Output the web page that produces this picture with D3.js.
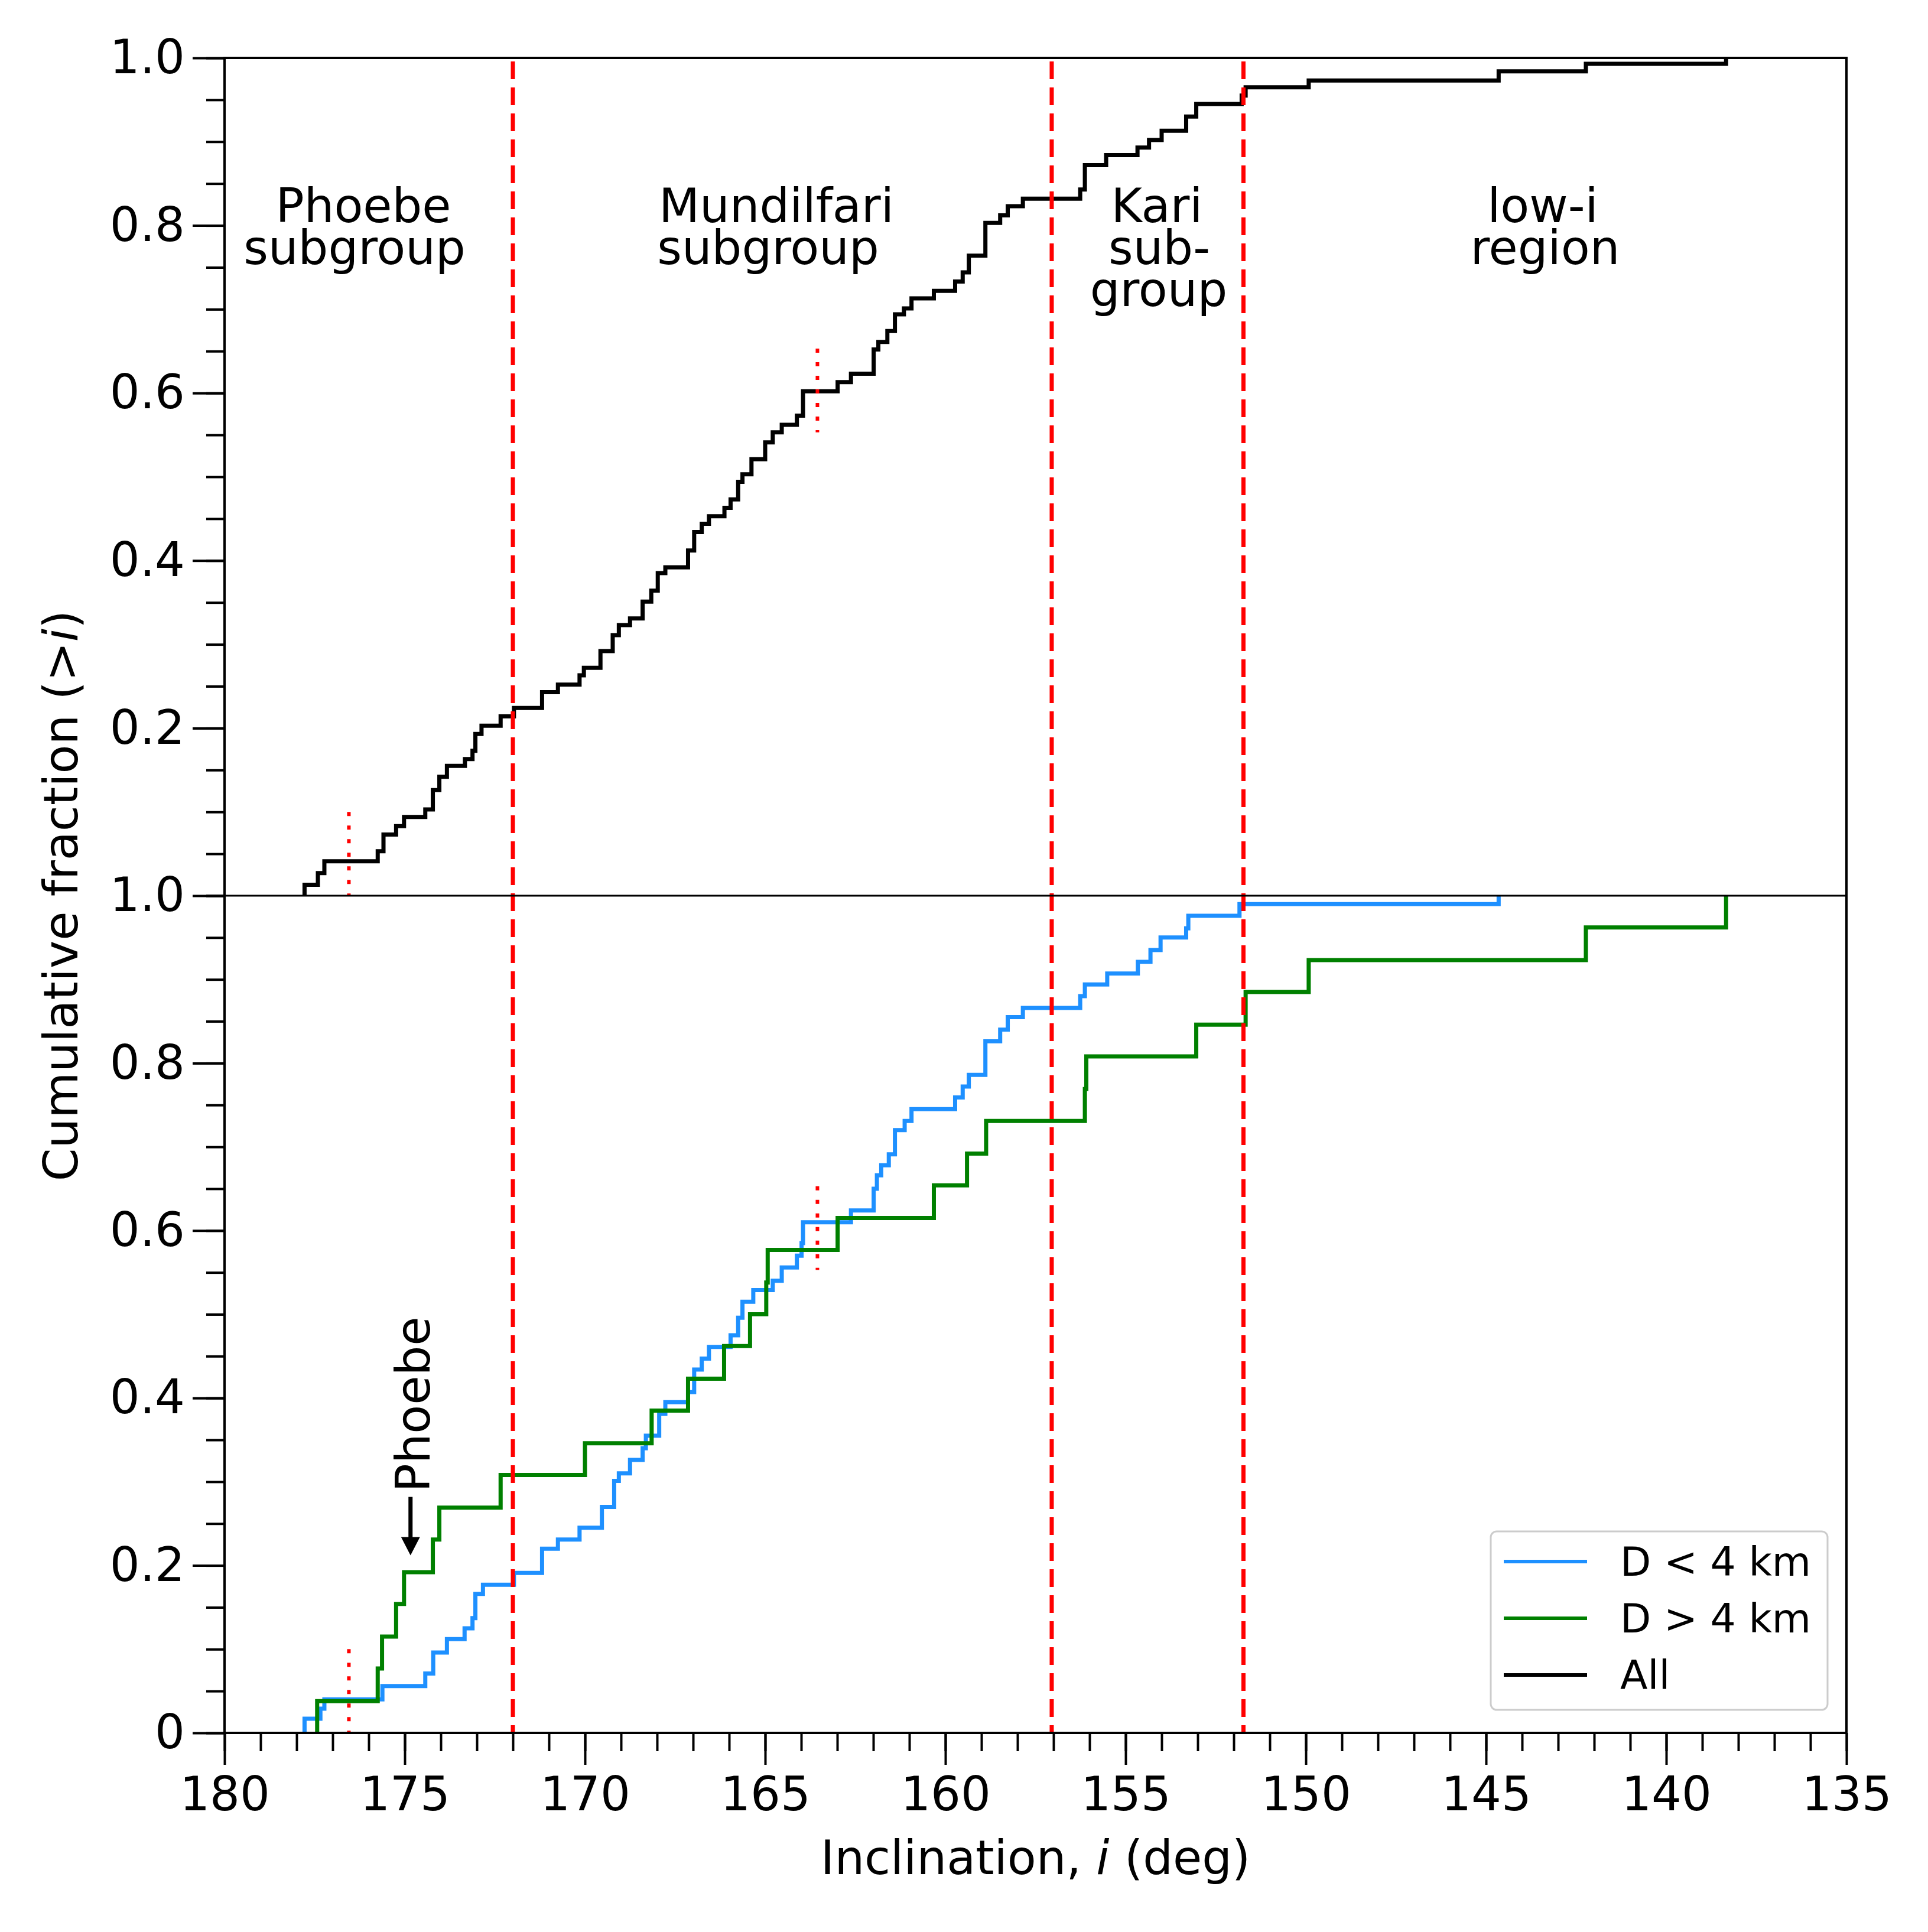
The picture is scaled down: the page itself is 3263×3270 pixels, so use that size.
<!DOCTYPE html>
<html>
<head>
<meta charset="utf-8">
<script src="https://cdn.jsdelivr.net/npm/d3@7/dist/d3.min.js"></script>
<style>
body { margin: 0; background: #fff; }
svg { display: block; font-family: "DejaVu Sans", sans-serif; }
</style>
</head>
<body>
<script>
/* =========================
   Data
========================= */
// "All" irregulars, top panel: inclination of each step and level after it
var allIncl = [177.78, 177.41, 177.23, 175.75, 175.59, 175.24, 175.02, 174.43, 174.22, 174.04,
               173.83, 173.33, 173.12, 173.04, 172.87, 172.34, 171.97, 171.19, 170.75, 170.15,
               170.03, 169.57, 169.23, 169.06, 168.75, 168.40, 168.16, 167.98, 167.77, 167.14,
               166.97, 166.76, 166.56, 166.13, 165.96, 165.75, 165.63, 165.38, 165.00, 164.79,
               164.54, 164.12, 163.95, 162.99, 162.62, 161.99, 161.86, 161.61, 161.40, 161.15,
               160.94, 160.32, 159.73, 159.52, 159.35, 158.89, 158.48, 158.27, 157.85, 156.26,
               156.13, 155.54, 154.67, 154.35, 154.00, 153.32, 153.04, 151.78, 151.67, 149.92,
               144.65, 142.23, 138.34];
var allFrac = [0.013, 0.027, 0.041, 0.053, 0.073, 0.083, 0.094, 0.103, 0.126, 0.142,
               0.155, 0.163, 0.173, 0.193, 0.203, 0.214, 0.224, 0.243, 0.252, 0.263,
               0.272, 0.292, 0.311, 0.323, 0.331, 0.351, 0.364, 0.385, 0.392, 0.412,
               0.434, 0.444, 0.453, 0.463, 0.473, 0.494, 0.503, 0.521, 0.541, 0.553,
               0.562, 0.573, 0.602, 0.613, 0.623, 0.652, 0.661, 0.674, 0.694, 0.701,
               0.713, 0.722, 0.733, 0.744, 0.764, 0.803, 0.812, 0.823, 0.832, 0.843,
               0.872, 0.884, 0.893, 0.902, 0.913, 0.930, 0.945, 0.955, 0.965, 0.973,
               0.984, 0.993, 1.0];

// D < 4 km, bottom panel
var smallIncl = [177.78, 177.34, 177.23, 175.62, 174.43, 174.21, 173.83, 173.34, 173.12, 173.04,
                 172.83, 171.97, 171.19, 170.75, 170.15, 169.53, 169.19, 169.06, 168.75, 168.40,
                 168.31, 167.94, 167.77, 167.14, 166.97, 166.76, 166.56, 165.96, 165.75, 165.63,
                 165.33, 164.79, 164.54, 164.12, 163.99, 163.95, 162.62, 161.99, 161.90, 161.78,
                 161.57, 161.40, 161.13, 160.94, 159.73, 159.52, 159.35, 158.89, 158.48, 158.27,
                 157.85, 156.26, 156.13, 155.51, 154.66, 154.31, 154.03, 153.32, 153.26, 151.84,
                 144.65];
var smallFrac = [0.017, 0.029, 0.040, 0.056, 0.071, 0.096, 0.112, 0.125, 0.137, 0.166,
                 0.177, 0.191, 0.220, 0.231, 0.245, 0.270, 0.301, 0.310, 0.326, 0.340,
                 0.355, 0.381, 0.395, 0.407, 0.434, 0.447, 0.461, 0.475, 0.496, 0.515,
                 0.529, 0.540, 0.556, 0.570, 0.585, 0.610, 0.624, 0.650, 0.666, 0.678,
                 0.691, 0.720, 0.731, 0.745, 0.759, 0.772, 0.786, 0.826, 0.840, 0.855,
                 0.866, 0.880, 0.894, 0.907, 0.921, 0.935, 0.950, 0.961, 0.976, 0.990,
                 1.0];

// D > 4 km, bottom panel
var bigIncl = [177.43, 175.75, 175.63, 175.24, 175.02, 174.22, 174.04, 172.34, 170.00, 168.15,
               167.14, 166.14, 165.42, 164.97, 164.93, 162.99, 160.32, 159.40, 158.87, 156.13,
               156.09, 153.04, 151.67, 149.92, 142.23, 138.34];
var bigFrac = [0.038, 0.077, 0.115, 0.154, 0.192, 0.231, 0.269, 0.308, 0.346, 0.385,
               0.423, 0.462, 0.500, 0.538, 0.577, 0.615, 0.654, 0.692, 0.731, 0.769,
               0.808, 0.846, 0.885, 0.923, 0.962, 1.0];

var groupBounds = [172.0, 157.05, 151.73];        // dashed red
var medianIncl = [176.55, 163.55];                 // dotted red
var medianSpan = [[0, 0.10], [0.553, 0.653]];
var regionNames = [["Phoebe", "subgroup"], ["Mundilfari", "subgroup"], ["Kari", "sub-", "group"], ["low-i", "region"]];
var phoebeIncl = 174.84;
var phoebeFrac = 0.212;

var xTicks = [180, 175, 170, 165, 160, 155, 150, 145, 140, 135];
var yTicksTop = [0.2, 0.4, 0.6, 0.8, 1.0];
var yTicksBot = [0, 0.2, 0.4, 0.6, 0.8, 1.0];
var legendNames = ["D < 4 km", "D > 4 km", "All"];
var legendColors = ["#1e90ff", "#008000", "#000000"];

/* =========================
   Layout
   (window.top is reserved, hence the p* names)
========================= */
var W = 3263, H = 3270;
var pLeft = 380, pRight = 3125, pTop = 98, pMid = 1516, pBottom = 2933;

var svg = d3.select("body").append("svg")
    .attr("width", W)
    .attr("height", H);
svg.append("rect").attr("width", W).attr("height", H).attr("fill", "#fff");

var x = d3.scaleLinear().domain([180, 135]).range([pLeft, pRight]);
var yTop = d3.scaleLinear().domain([0, 1]).range([pMid, pTop]);
var yBot = d3.scaleLinear().domain([0, 1]).range([pBottom, pMid]);

function stepPoints(incl, frac) {
    var pts = [[incl[0], 0]];
    for (var i = 0; i < incl.length; i++) pts.push([incl[i], frac[i]]);
    return pts;
}

function drawStep(incl, frac, yScale, color) {
    var line = d3.line()
        .x(function (d) { return x(d[0]); })
        .y(function (d) { return yScale(d[1]); })
        .curve(d3.curveStepAfter);
    svg.append("path")
        .datum(stepPoints(incl, frac))
        .attr("d", line)
        .attr("fill", "none")
        .attr("stroke", color)
        .attr("stroke-width", 7);
}

drawStep(allIncl, allFrac, yTop, "#000");
drawStep(smallIncl, smallFrac, yBot, "#1e90ff");
drawStep(bigIncl, bigFrac, yBot, "#008000");

/* === red boundaries === */
svg.selectAll("line.bound")
    .data(groupBounds)
    .enter().append("line")
    .attr("class", "bound")
    .attr("x1", function (d) { return x(d); })
    .attr("x2", function (d) { return x(d); })
    .attr("y1", pTop + 6)
    .attr("y2", pBottom)
    .attr("stroke", "#ff0000")
    .attr("stroke-width", 7)
    .attr("stroke-dasharray", "30,14");

[yTop, yBot].forEach(function (ys) {
    medianIncl.forEach(function (m, i) {
        svg.append("line")
            .attr("x1", x(m)).attr("x2", x(m))
            .attr("y1", ys(medianSpan[i][1]))
            .attr("y2", ys(medianSpan[i][0]))
            .attr("stroke", "#ff0000")
            .attr("stroke-width", 6)
            .attr("stroke-dasharray", "7,16");
    });
});

/* === region labels === */
var regionCenters = [[615, 600], [1314, 1300], [1958, 1962, 1961], [2611, 2615]];
var lineBase = [376, 447, 518];
regionNames.forEach(function (lines, r) {
    lines.forEach(function (t, j) {
        svg.append("text")
            .attr("x", regionCenters[r][j])
            .attr("y", lineBase[j])
            .attr("text-anchor", "middle")
            .attr("font-size", 80)
            .text(t);
    });
});

/* === Phoebe arrow === */
var ax = x(phoebeIncl), tipY = yBot(phoebeFrac);
svg.append("line")
    .attr("x1", ax).attr("x2", ax)
    .attr("y1", tipY - 99).attr("y2", tipY - 25)
    .attr("stroke", "#000").attr("stroke-width", 7);
svg.append("path")
    .attr("d", "M" + (ax - 16) + "," + (tipY - 31) + "L" + (ax + 16) + "," + (tipY - 31) + "L" + ax + "," + tipY + "Z")
    .attr("fill", "#000");
svg.append("text")
    .attr("transform", "translate(" + (ax + 32) + "," + (tipY - 107) + ") rotate(-90)")
    .attr("font-size", 80)
    .text("Phoebe");

/* =========================
   Axes
========================= */
var fmt = function (d) { return d === 0 ? "0" : d3.format(".1f")(d); };

function styleAxis(g) {
    g.select(".domain").remove();
    g.selectAll("line").attr("stroke", "#000").attr("stroke-width", 4);
    g.selectAll("text").attr("font-size", 80).attr("fill", "#000")
        .attr("font-family", "DejaVu Sans, sans-serif");
}

[[yTop, yTicksTop], [yBot, yTicksBot]].forEach(function (p) {
    svg.append("g").attr("transform", "translate(" + pLeft + ",0)")
        .call(d3.axisLeft(p[0]).tickValues(d3.range(0, 1.001, 0.05)).tickSize(31).tickFormat(""))
        .call(styleAxis);
    svg.append("g").attr("transform", "translate(" + pLeft + ",0)")
        .call(d3.axisLeft(p[0]).tickValues(p[1]).tickSize(54).tickPadding(13).tickFormat(fmt))
        .call(styleAxis);
});

svg.append("g").attr("transform", "translate(0," + pBottom + ")")
    .call(d3.axisBottom(x).tickValues(d3.range(135, 181, 1)).tickSize(31).tickFormat(""))
    .call(styleAxis);
svg.append("g").attr("transform", "translate(0," + pBottom + ")")
    .call(d3.axisBottom(x).tickValues(xTicks).tickSize(54).tickPadding(20).tickFormat(d3.format("d")))
    .call(styleAxis);

// spines
svg.append("rect")
    .attr("x", pLeft).attr("y", pTop)
    .attr("width", pRight - pLeft).attr("height", pBottom - pTop)
    .attr("fill", "none").attr("stroke", "#000").attr("stroke-width", 4);
svg.append("line")
    .attr("x1", pLeft).attr("x2", pRight).attr("y1", pMid).attr("y2", pMid)
    .attr("stroke", "#000").attr("stroke-width", 3);

// axis titles
var xl = svg.append("text")
    .attr("x", (pLeft + pRight) / 2).attr("y", 3172)
    .attr("text-anchor", "middle").attr("font-size", 80);
xl.append("tspan").text("Inclination, ");
xl.append("tspan").attr("font-style", "italic").text("i");
xl.append("tspan").text(" (deg)");

var yl = svg.append("text")
    .attr("transform", "translate(131," + pMid + ") rotate(-90)")
    .attr("text-anchor", "middle").attr("font-size", 80);
yl.append("tspan").text("Cumulative fraction (>");
yl.append("tspan").attr("font-style", "italic").text("i");
yl.append("tspan").text(")");

/* =========================
   Legend
========================= */
var lg = svg.append("g").attr("transform", "translate(2523,2592)");
lg.append("rect")
    .attr("width", 570).attr("height", 302).attr("rx", 10)
    .attr("fill", "#fff").attr("fill-opacity", 0.8)
    .attr("stroke", "#cccccc").attr("stroke-width", 3);
legendNames.forEach(function (name, i) {
    var ly = 51 + i * 96;
    lg.append("line")
        .attr("x1", 22).attr("x2", 163).attr("y1", ly).attr("y2", ly)
        .attr("stroke", legendColors[i]).attr("stroke-width", 6);
    lg.append("text")
        .attr("x", 219).attr("y", ly).attr("dy", "0.35em")
        .attr("font-size", 68)
        .text(name);
});
</script>
</body>
</html>
